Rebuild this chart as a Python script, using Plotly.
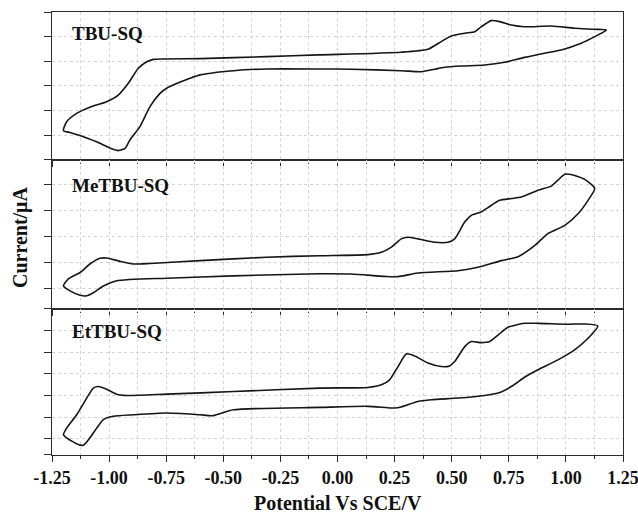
import plotly.graph_objects as go

# ---- Potential axis (V vs SCE) ----
x_ticks = [-1.25, -1.00, -0.75, -0.50, -0.25, 0.00, 0.25, 0.50, 0.75, 1.00, 1.25]
x_tick_labels = ["-1.25", "-1.00", "-0.75", "-0.50", "-0.25", "0.00",
                 "0.25", "0.50", "0.75", "1.00", "1.25"]

# ---- TBU-SQ cyclic voltammogram (current in arbitrary tick units) ----
tbu_fwd_x = [-1.20, -1.186, -1.142, -1.084, -1.011, -0.960, -0.916, -0.872, -0.835, -0.806,
             -0.602, -0.310, -0.085, 0.279, 0.396, 0.454, 0.498, 0.557, 0.601, 0.629,
             0.673, 0.710, 0.761, 0.819, 0.936, 1.038, 1.126, 1.177]
tbu_fwd_y = [1.19, 1.55, 1.89, 2.14, 2.36, 2.63, 3.11, 3.72, 3.98, 4.08,
             4.11, 4.19, 4.26, 4.37, 4.49, 4.80, 5.03, 5.14, 5.20, 5.40,
             5.65, 5.61, 5.47, 5.40, 5.43, 5.34, 5.30, 5.27]
tbu_rev_x = [1.126, 1.067, 0.980, 0.907, 0.819, 0.732, 0.644, 0.542, 0.469, 0.425,
             0.367, 0.279, 0.060, -0.085, -0.310, -0.456, -0.602, -0.646, -0.748, -0.777,
             -0.821, -0.865, -0.909, -0.930, -0.960, -0.989, -1.040, -1.113, -1.171, -1.20]
tbu_rev_y = [5.00, 4.73, 4.46, 4.33, 4.16, 3.96, 3.85, 3.81, 3.76, 3.68,
             3.58, 3.62, 3.68, 3.69, 3.69, 3.62, 3.45, 3.31, 2.91, 2.70,
             2.16, 1.35, 0.81, 0.47, 0.38, 0.45, 0.68, 0.94, 1.11, 1.19]

# ---- MeTBU-SQ ----
me_fwd_x = [-1.20, -1.179, -1.127, -1.084, -1.040, -1.011, -0.952, -0.894, -0.821, -0.602,
            -0.310, -0.080, 0.133, 0.192, 0.236, 0.279, 0.309, 0.352, 0.425, 0.484,
            0.513, 0.557, 0.586, 0.629, 0.659, 0.710, 0.761, 0.805, 0.878, 0.936,
            0.965, 0.995, 1.023, 1.082, 1.126]
me_fwd_y = [1.09, 1.36, 1.61, 1.94, 2.16, 2.17, 2.04, 1.94, 1.96, 2.07,
            2.20, 2.26, 2.30, 2.39, 2.59, 2.91, 2.97, 2.91, 2.78, 2.78,
            2.91, 3.56, 3.82, 3.95, 4.12, 4.40, 4.47, 4.53, 4.79, 4.95,
            5.18, 5.41, 5.40, 5.21, 4.86]
me_rev_x = [1.097, 1.053, 0.995, 0.921, 0.863, 0.790, 0.717, 0.615, 0.527, 0.352,
            0.265, 0.207, 0.060, -0.080, -0.456, -0.748, -0.967, -1.025, -1.069, -1.098,
            -1.127, -1.171, -1.20]
me_rev_y = [4.40, 3.88, 3.43, 3.11, 2.65, 2.22, 2.07, 1.81, 1.68, 1.59,
            1.45, 1.46, 1.55, 1.56, 1.48, 1.39, 1.29, 1.09, 0.83, 0.71,
            0.73, 0.90, 1.09]

# ---- EtTBU-SQ ----
et_fwd_x = [-1.20, -1.186, -1.142, -1.098, -1.069, -1.047, -1.011, -0.967, -0.923, -0.748,
            -0.456, -0.077, 0.133, 0.192, 0.228, 0.265, 0.301, 0.338, 0.396, 0.454,
            0.491, 0.513, 0.557, 0.586, 0.629, 0.666, 0.703, 0.746, 0.819, 0.878,
            1.009, 1.082, 1.140]
et_fwd_y = [1.20, 1.50, 2.11, 2.88, 3.34, 3.41, 3.29, 3.06, 3.00, 3.06,
            3.18, 3.34, 3.37, 3.49, 3.72, 4.33, 4.91, 4.82, 4.49, 4.33,
            4.36, 4.56, 5.25, 5.48, 5.43, 5.48, 5.78, 6.14, 6.32, 6.32,
            6.28, 6.29, 6.20]
et_rev_x = [1.097, 1.038, 0.965, 0.878, 0.819, 0.761, 0.703, 0.644, 0.527, 0.411,
            0.352, 0.279, 0.250, 0.133, -0.077, -0.456, -0.544, -0.602, -0.748, -0.894,
            -0.982, -1.025, -1.054, -1.084, -1.113, -1.135, -1.186, -1.20]
et_rev_y = [5.63, 5.10, 4.64, 4.18, 3.84, 3.41, 3.11, 3.00, 2.88, 2.80,
            2.72, 2.47, 2.42, 2.50, 2.45, 2.34, 2.07, 2.11, 2.19, 2.11,
            2.04, 1.89, 1.50, 1.05, 0.71, 0.74, 1.05, 1.20]

# ---- per-panel current ticks and ranges (tick units) ----
panel_names = ["TBU-SQ", "MeTBU-SQ", "EtTBU-SQ"]
y_ticks = [[1, 2, 3, 4, 5], [1, 2, 3, 4, 5], [1, 2, 3, 4, 5, 6]]
y_ranges = [[0.0, 6.0], [0.2, 5.96], [0.26, 6.98]]
y_domains = [[0.666, 1.0], [0.3296, 0.666], [0.0, 0.3296]]
label_y = [0.951, 0.608, 0.278]

loops = [
    (tbu_fwd_x + tbu_rev_x, tbu_fwd_y + tbu_rev_y),
    (me_fwd_x + me_rev_x, me_fwd_y + me_rev_y),
    (et_fwd_x + et_rev_x, et_fwd_y + et_rev_y),
]

FONT = "Liberation Serif"
AX_COL = "#2b2b2b"
GRID_COL = "#d4d4d4"

fig = go.Figure()
layout = dict(
    width=638, height=515,
    margin=dict(l=52, r=15, t=12, b=60),
    plot_bgcolor="white", paper_bgcolor="white",
    showlegend=False,
    font=dict(family=FONT, color="#111"),
)

for i, (lx, ly) in enumerate(loops):
    sfx = "" if i == 0 else str(i + 1)
    fig.add_trace(go.Scatter(
        x=lx, y=ly, mode="lines",
        line=dict(color="#151515", width=1.6, shape="spline", smoothing=0.6),
        xaxis="x" + sfx, yaxis="y" + sfx, hoverinfo="skip",
    ))
    is_bottom = i == len(loops) - 1
    lo, hi = y_ranges[i]
    layout["xaxis" + sfx] = dict(
        domain=[0, 1], anchor="y" + sfx, range=[-1.25, 1.25],
        automargin=False, ticklabeloverflow="allow",
        tickmode="array", tickvals=x_ticks, ticktext=x_tick_labels,
        showticklabels=is_bottom,
        tickfont=dict(family=FONT, size=18, weight="bold", color="#111"),
        ticks="outside", ticklen=6, tickwidth=1.2, tickcolor=AX_COL,
        showline=True, linecolor=AX_COL, linewidth=1.2, mirror=True,
        showgrid=True, gridcolor=GRID_COL, griddash="dot", gridwidth=1,
        minor=dict(tickmode="linear", tick0=-1.25, dtick=0.125,
                   ticks="outside", ticklen=3, tickwidth=1.2, tickcolor=AX_COL,
                   showgrid=True, gridcolor=GRID_COL, griddash="dot", gridwidth=1),
        zeroline=False,
    )
    if i > 0:
        layout["xaxis" + sfx]["matches"] = "x"
    layout["yaxis" + sfx] = dict(
        domain=y_domains[i], anchor="x" + sfx, range=[lo, hi],
        automargin=False,
        tickmode="array", tickvals=[lo] + y_ticks[i] + [hi],
        showticklabels=False,
        ticks="outside", ticklen=7, tickwidth=1.2, tickcolor=AX_COL,
        showline=True, linecolor=AX_COL, linewidth=1.2, mirror=True,
        showgrid=True, gridcolor=GRID_COL, griddash="dot", gridwidth=1,
        zeroline=False,
    )

annotations = []
for name, ypos in zip(panel_names, label_y):
    annotations.append(dict(
        text=name, xref="paper", yref="paper", x=0.0315, y=ypos,
        xanchor="left", yanchor="middle", showarrow=False,
        font=dict(family=FONT, size=19, weight="bold", color="#111"),
    ))
annotations.append(dict(
    text="Potential Vs SCE/V", xref="paper", yref="paper", x=0.5, y=-0.108,
    xanchor="center", yanchor="middle", showarrow=False,
    font=dict(family=FONT, size=20, weight="bold", color="#111"),
))
annotations.append(dict(
    text="Current/μA", xref="paper", yref="paper", x=-0.056, y=0.492,
    xanchor="center", yanchor="middle", showarrow=False, textangle=-90,
    font=dict(family=FONT, size=20, weight="bold", color="#111"),
))
layout["annotations"] = annotations

fig.update_layout(**layout)
fig.write_html("out.html")
